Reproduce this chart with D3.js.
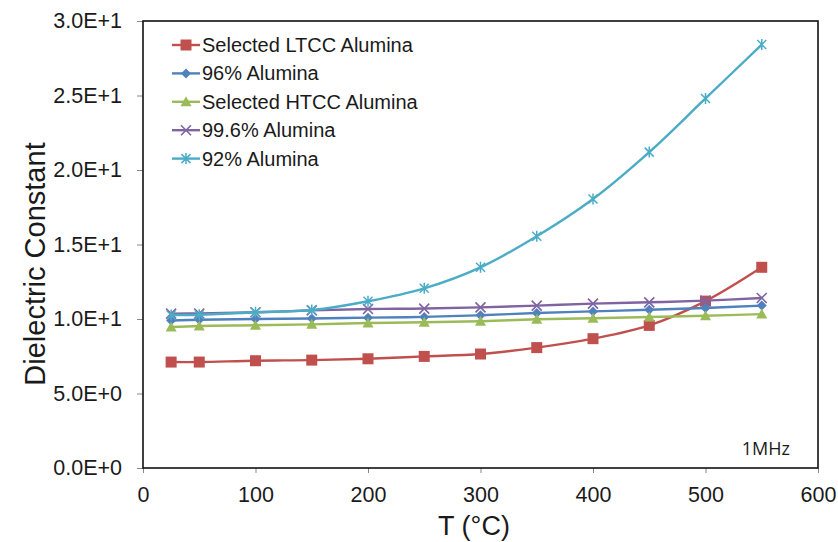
<!DOCTYPE html>
<html>
<head>
<meta charset="utf-8">
<script src="https://cdn.jsdelivr.net/npm/d3@7"></script>
<style>
  body { margin: 0; background: #fff; }
  svg { display: block; }
  text { font-family: "Liberation Sans", Arial, sans-serif; fill: #1a1a1a; }
</style>
</head>
<body>
<svg id="chart" width="838" height="542"></svg>
<script>
const temps = [25, 50, 100, 150, 200, 250, 300, 350, 400, 450, 500, 550];

const ltcc  = [7.11, 7.11, 7.2, 7.24, 7.33, 7.49, 7.65, 8.08, 8.68, 9.57, 11.2, 13.47];
const a96   = [9.9, 9.95, 10.0, 10.03, 10.09, 10.14, 10.25, 10.4, 10.51, 10.62, 10.74, 10.9];
const htcc  = [9.46, 9.53, 9.58, 9.64, 9.73, 9.78, 9.85, 9.98, 10.05, 10.13, 10.22, 10.33];
const a996  = [10.36, 10.37, 10.45, 10.58, 10.67, 10.7, 10.78, 10.9, 11.03, 11.12, 11.23, 11.41];
const a92   = [10.27, 10.29, 10.45, 10.6, 11.19, 12.06, 13.47, 15.55, 18.05, 21.2, 24.8, 28.42];

const seriesNames = ["Selected LTCC Alumina", "96% Alumina", "Selected HTCC Alumina", "99.6% Alumina", "92% Alumina"];
const seriesValues = [ltcc, a96, htcc, a996, a92];
const seriesColors = ["#C0504D", "#4F81BD", "#9BBB59", "#8064A2", "#4BACC6"];
const seriesMarkers = ["square", "diamond", "triangle", "x", "star"];

const xTicks = [0, 100, 200, 300, 400, 500, 600];
const yTicks = [0, 5, 10, 15, 20, 25, 30];

const width = 838, height = 542;
const margin = { top: 21, right: 20, bottom: 74, left: 143 };

const svg = d3.select("#chart");

const x = d3.scaleLinear().domain([0, 600]).range([margin.left, width - margin.right]);
const y = d3.scaleLinear().domain([0, 30]).range([height - margin.bottom, margin.top]);

// axes
const xAxis = svg.append("g")
  .attr("transform", `translate(0,${height - margin.bottom})`)
  .call(d3.axisBottom(x).tickValues(xTicks).tickSize(5).tickPadding(14).tickFormat(d3.format("d")));

const yAxis = svg.append("g")
  .attr("transform", `translate(${margin.left},0)`)
  .call(d3.axisLeft(y).tickValues(yTicks).tickSize(6).tickPadding(15)
    .tickFormat(d => {
      if (d === 0) return "0.0E+0";
      const e = Math.floor(Math.log10(d));
      return (d / Math.pow(10, e)).toFixed(1) + "E+" + e;
    }));

[xAxis, yAxis].forEach(a => {
  a.select(".domain").remove();
  a.selectAll(".tick line").attr("stroke", "#888").attr("stroke-width", 1);
  a.selectAll(".tick text")
    .style("font-family", "'Liberation Sans', Arial, sans-serif")
    .style("font-size", "21.5px")
    .attr("fill", "#1a1a1a");
});

// plot frame
svg.append("rect")
  .attr("x", x(0))
  .attr("y", y(30))
  .attr("width", x(600) - x(0))
  .attr("height", y(0) - y(30))
  .attr("fill", "none")
  .attr("stroke", "#111")
  .attr("stroke-width", 1.6);

// axis titles
svg.append("text")
  .attr("x", 474)
  .attr("y", 535)
  .attr("text-anchor", "middle")
  .style("font-size", "27px")
  .text("T (\u00B0C)");

svg.append("text")
  .attr("transform", "translate(45,264) rotate(-90)")
  .attr("text-anchor", "middle")
  .style("font-size", "29px")
  .text("Dielectric Constant");

svg.append("text")
  .attr("x", 790)
  .attr("y", 455)
  .attr("text-anchor", "end")
  .style("font-family", "'Open Sans', sans-serif")
  .style("font-size", "18px")
  .text("1MHz");

function drawMarker(g, type, color) {
  if (type === "square") {
    g.append("rect").attr("x", -5.5).attr("y", -5.5).attr("width", 11).attr("height", 11)
      .attr("fill", color);
  } else if (type === "diamond") {
    g.append("path").attr("d", "M0,-5L5,0L0,5L-5,0Z").attr("fill", color);
  } else if (type === "triangle") {
    g.append("path").attr("d", "M0,-5.5L5.5,4.5L-5.5,4.5Z").attr("fill", color);
  } else if (type === "x") {
    g.append("path").attr("d", "M-5,-5L5,5M-5,5L5,-5").attr("stroke", color).attr("stroke-width", 1.6);
  } else if (type === "star") {
    g.append("path").attr("d", "M-4.5,-4.5L4.5,4.5M-4.5,4.5L4.5,-4.5M0,-5.5L0,5.5").attr("stroke", color).attr("stroke-width", 1.5);
  }
}

const line = d3.line()
  .x((d, i) => x(temps[i]))
  .y(d => y(d))
  .curve(d3.curveCatmullRom.alpha(0.5));

const series = svg.append("g").attr("class", "series");

seriesValues.forEach((vals, k) => {
  const g = series.append("g");
  g.append("path")
    .datum(vals)
    .attr("d", line)
    .attr("fill", "none")
    .attr("stroke", seriesColors[k])
    .attr("stroke-width", 2.4);

  g.selectAll("g.pt")
    .data(vals)
    .enter()
    .append("g")
    .attr("class", "pt")
    .attr("transform", (d, i) => `translate(${x(temps[i])},${y(d)})`)
    .each(function() {
      drawMarker(d3.select(this), seriesMarkers[k], seriesColors[k]);
    });
});

// legend
const legend = svg.append("g").attr("transform", "translate(172,45)");
seriesNames.forEach((name, k) => {
  const row = legend.append("g").attr("transform", `translate(0,${k * 28.4})`);
  row.append("line")
    .attr("x1", 0).attr("x2", 28)
    .attr("stroke", seriesColors[k])
    .attr("stroke-width", 2.4);
  const m = row.append("g").attr("transform", "translate(14,0)");
  drawMarker(m, seriesMarkers[k], seriesColors[k]);
  row.append("text")
    .attr("x", 30)
    .attr("dy", "0.35em")
    .style("font-size", "20px")
    .text(name);
});
</script>
</body>
</html>
